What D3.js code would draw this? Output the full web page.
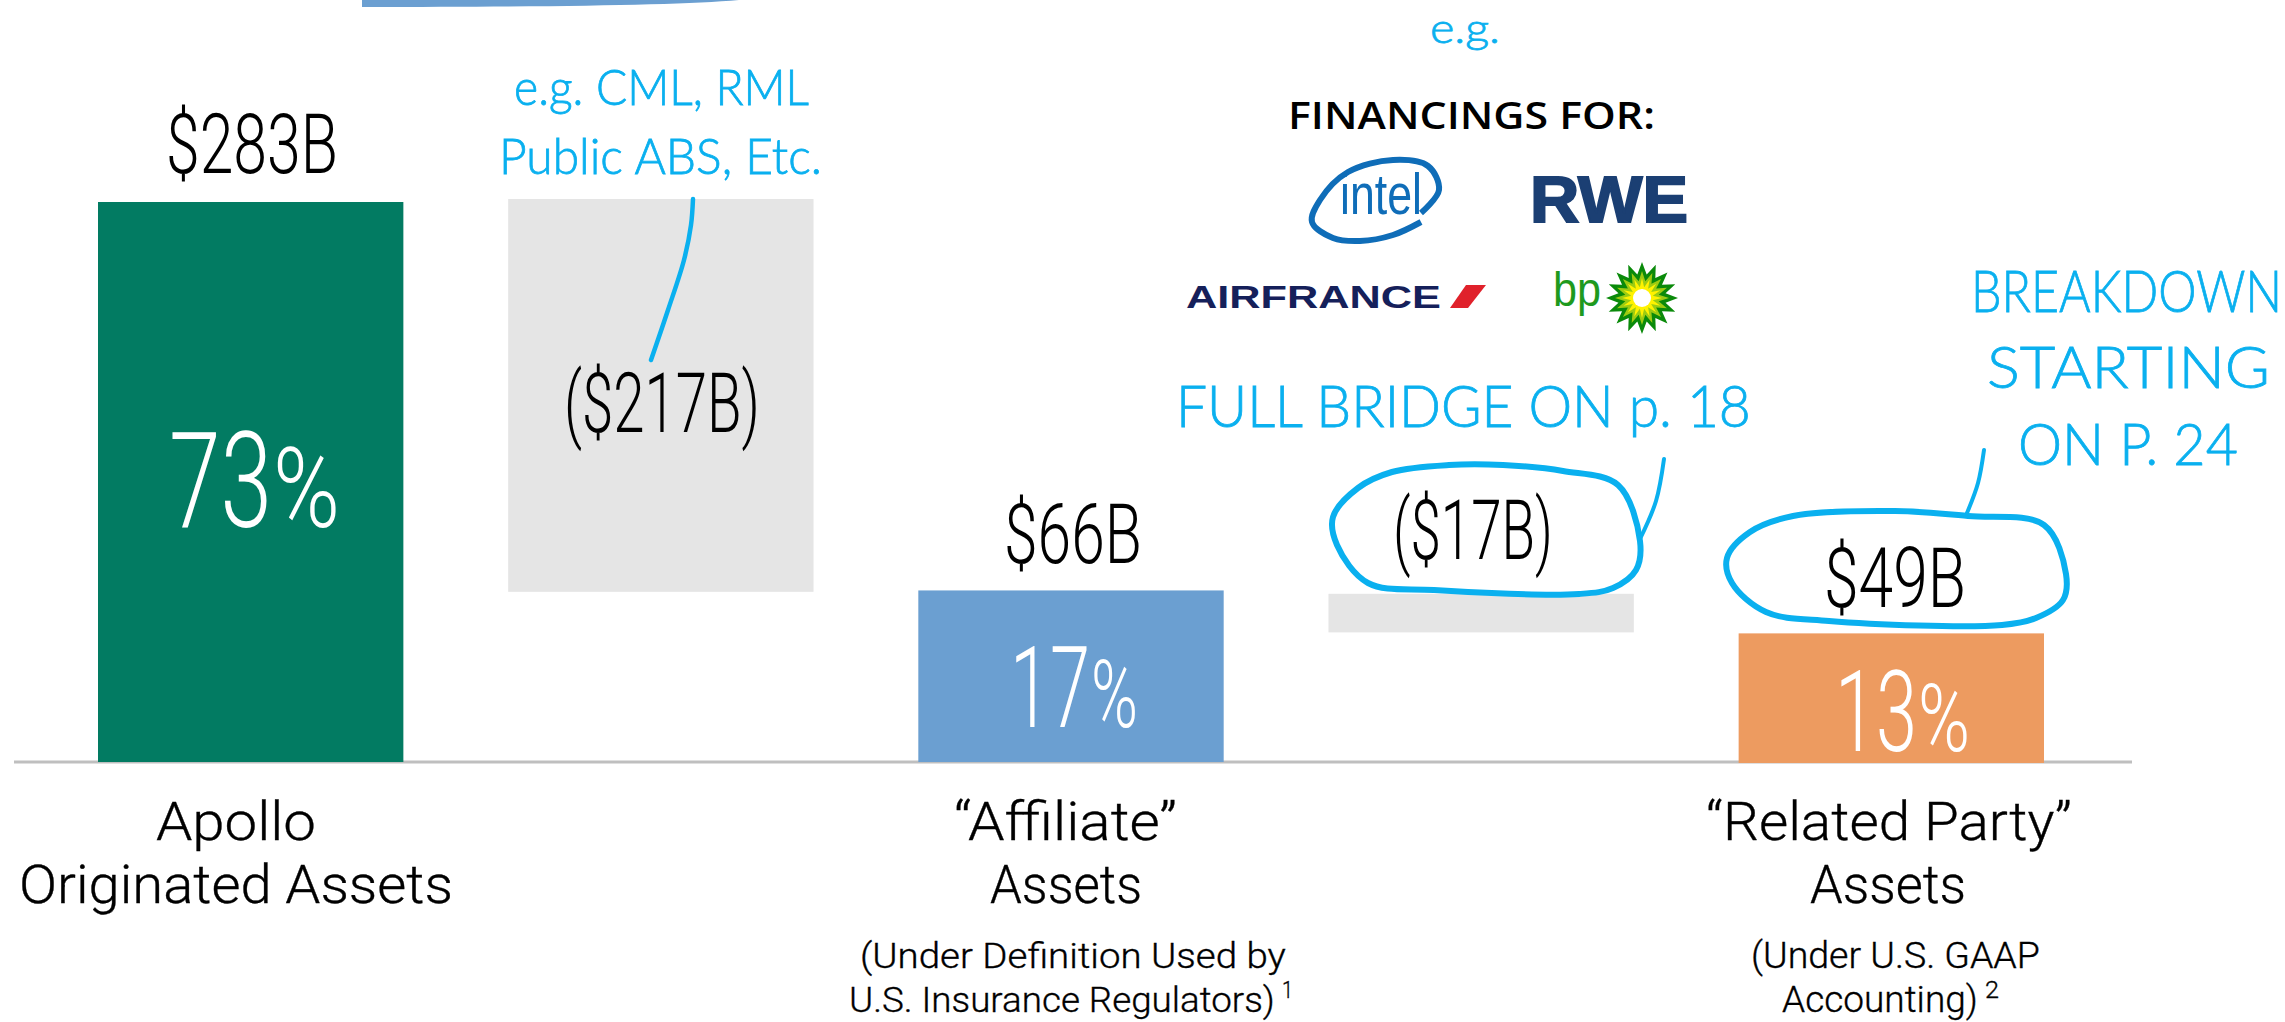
<!DOCTYPE html>
<html><head><meta charset="utf-8">
<script src="https://cdn.jsdelivr.net/npm/d3@7"></script>
<style>html,body{margin:0;padding:0;background:#fff;overflow:hidden}svg{display:block}</style>
</head><body><svg id="c" width="2285" height="1022"></svg>
<script>
// Steps of the bridge. The bars are drawn not strictly to one scale in the source,
// so the drawn extents are read off the picture in $B-equivalent axis units.
const categories = ["Apollo Originated","Less Other","Affiliate","Less Overlap","Related Party"];
const valueLabels = ["$283B","($217B)","$66B","($17B)","$49B"];
const pctLabels = ["73","","17","","13"];
const drawnTops = [283,284.5,86.7,85,65];
const drawnBases = [0,86,0,65.5,-0.5];
const barColors = ["#027B62","#E5E5E5","#6B9FD1","#E5E5E5","#ED9B60"];

const INK="#0AB0EF", NUM="Roboto", UI="Roboto", HAND="Lato";
const svg=d3.select("#c");
const x=d3.scaleBand().domain(categories).range([98,2044]).paddingInner(0.2555).paddingOuter(0);
const y=d3.scaleLinear().domain([0,283]).range([762,202]);

// fit a text between x1 and x2 on a baseline, by horizontal scaling
function fit(str,x1,x2,base,size,opt={}){
  const t=svg.append("text").attr("font-family",opt.font||UI).attr("font-size",size)
    .attr("font-weight",opt.weight||400).attr("fill",opt.fill||"#000").attr("stroke",opt.stroke||"none")
    .attr("stroke-width",opt.sw||0).text(str);
  const w=t.node().getComputedTextLength();
  t.attr("transform",`translate(${x1},${base}) scale(${(x2-x1)/w},1)`);
  return t;
}

// partial shape cut off at the top edge
svg.append("path").attr("fill","#6B9FD1")
  .attr("d","M362,0 L739,0 C680,5 560,7 362,7 Z");

// baseline
svg.append("line").attr("x1",14).attr("x2",2132).attr("y1",762).attr("y2",762).attr("stroke","#BFBFBF").attr("stroke-width",3);

// bars
svg.selectAll("rect.bar").data(categories).join("rect").attr("class","bar")
  .attr("x",d=>x(d)).attr("width",x.bandwidth())
  .attr("y",(d,i)=>y(drawnTops[i])).attr("height",(d,i)=>y(drawnBases[i])-y(drawnTops[i]))
  .attr("fill",(d,i)=>barColors[i]);

// value labels
const valPos=[[166,338,173],[564,760,432],[1004,1142,563],[1393,1553,559],[1824,1966,607]];
valueLabels.forEach((s,i)=>fit(s,valPos[i][0],valPos[i][1],valPos[i][2],84,{font:NUM,weight:300}));

// percent labels
const pctPos=[[169,272,340,527,134,112],[1010,1090,1138,727,113,94],[1835,1917,1970,751,113,94]];
pctLabels.filter(d=>d).forEach((s,i)=>{
  const p=pctPos[i];
  fit(s,p[0],p[1],p[3],p[4],{font:NUM,weight:300,fill:"#fff"});
  fit("%",p[1]+1,p[2],p[3],p[5],{font:NUM,weight:300,fill:"#fff"});
});

// category labels
const light={weight:300,stroke:"#000",sw:0.35};
fit("Apollo",156,316,840,53,light);
fit("Originated Assets",19,453,903,53,light);
fit("\u201CAffiliate\u201D",954,1177,840,53,light);
fit("Assets",990,1142,903,53,light);
fit("\u201CRelated Party\u201D",1706,2072,840,53,light);
fit("Assets",1810,1966,903,53,light);
fit("(Under Definition Used by",860,1286,968,36,light);
fit("U.S. Insurance Regulators)",849,1275,1012,36,light);
fit("1",1282,1293,998,24,light);
fit("(Under U.S. GAAP",1751,2040,968,36,light);
fit("Accounting)",1782,1978,1012,36,light);
fit("2",1985,1999,998,24,light);

// FINANCINGS FOR
fit("FINANCINGS FOR:",1288,1655,129,38,{font:"'Open Sans'",weight:600});

// handwritten notes (real text)
const hand={font:HAND,weight:300,fill:INK,stroke:INK,sw:0.8};
fit("e.g. CML, RML",514,809,105,50,hand);
fit("Public ABS, Etc.",499,822,174,50,hand);
fit("e.g.",1430,1500,43,42,hand);
fit("FULL BRIDGE ON p. 18",1176,1751,427,58,hand);
fit("BREAKDOWN",1971,2282,312,58,hand);
fit("STARTING",1987,2270,388,58,hand);
fit("ON P. 24",2018,2238,465,58,hand);

// ink strokes
const open=d3.line().curve(d3.curveCatmullRom), closed=d3.line().curve(d3.curveCatmullRomClosed);
function ink(g,pts,w){svg.append("path").attr("d",g(pts)).attr("fill","none").attr("stroke",INK).attr("stroke-width",w||6).attr("stroke-linecap","round");}
ink(open,[[693,199],[691,225],[684,260],[668,310],[651,360]],4.5);
ink(closed,[[1449,465],[1392,472],[1358,488],[1333,517],[1337,545],[1368,583],[1434,590],[1579,594],[1613,588],[1636,570],[1640,541],[1618,485],[1563,471],[1503,465]],6);
ink(open,[[1640,539],[1656,501],[1664,459]],4);
ink(closed,[[1895,511],[1793,516],[1750,532],[1727,558],[1732,583],[1766,612],[1829,621],[2002,625],[2036,618],[2063,600],[2066,574],[2044,525],[1968,516]],6);
ink(open,[[1967,513],[1978,483],[1984,450]],4);

// logos
svg.append("path").attr("d",open([[1421,213],[1439,190],[1428,166],[1393,160],[1348,172],[1320,200],[1312,222],[1333,238],[1360,241],[1393,235],[1421,222]]))
  .attr("fill","none").attr("stroke","#0F6DB8").attr("stroke-width",6);
fit("intel",1340,1422,214,58,{font:"'Liberation Sans'",fill:"#0F6DB8"});
fit("RWE",1530,1688,222,64,{font:"'Liberation Sans'",weight:700,fill:"#1B3F73",stroke:"#1B3F73",sw:2});
fit("AIRFRANCE",1186,1441,308,32,{font:"'Liberation Sans'",weight:700,fill:"#15205A"});
svg.append("path").attr("d","M1466,285 L1486,285 L1468,308 L1450,308 Z").attr("fill","#E0212B");
fit("bp",1553,1601,306,48,{font:"'Liberation Sans'",fill:"#1E9A1E"});
const star=(n,R,r)=>d3.range(2*n).map(k=>[(k%2?r:R),k*Math.PI/n]);
const radial=d3.lineRadial().radius(d=>d[0]).angle(d=>d[1]).curve(d3.curveLinearClosed);
const sun=svg.append("g").attr("transform","translate(1642,298)");
sun.append("path").attr("d",radial(star(16,36,24))).attr("fill","#0A8A0A");
sun.append("path").attr("d",radial(star(16,27,17))).attr("fill","#9CCB12");
sun.append("path").attr("d",radial(star(16,20,11))).attr("fill","#FFF200");
sun.append("circle").attr("r",9).attr("fill","#fff");
</script></body></html>
